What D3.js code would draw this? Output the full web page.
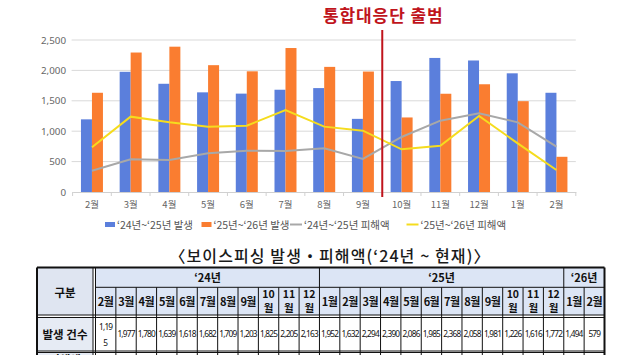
<!DOCTYPE html>
<html><head><meta charset="utf-8">
<script src="https://cdn.jsdelivr.net/npm/d3@7"></script>
<style>
html,body{margin:0;padding:0;background:#fff;}
svg{display:block;font-family:"Noto Sans CJK KR","Noto Sans",sans-serif;}
</style></head>
<body>
<svg id="c" width="627" height="355"></svg>
<script>
// ---- data ----
const months = ["2월","3월","4월","5월","6월","7월","8월","9월","10월","11월","12월","1월","2월"];
const occ2425 = [1195,1977,1780,1639,1618,1682,1709,1203,1825,2205,2163,1952,1632];
const occ2526 = [1632,2294,2390,2086,1985,2368,2058,1981,1226,1616,1772,1494,579];
const dmg2425 = [350,537,526,636,680,674,718,543,905,1173,1294,1146,745];
const dmg2526 = [735,1239,1146,1075,1090,1349,1075,1009,702,762,1250,800,362];
const yTicks = [0,500,1000,1500,2000,2500];
const seriesNames = ["‘24년~‘25년 발생","‘25년~‘26년 발생","‘24년~‘25년 피해액","‘25년~‘26년 피해액"];
const tableYears = ["‘24년","‘25년","‘26년"];
const tableMonths24 = ["2월","3월","4월","5월","6월","7월","8월","9월","10월","11월","12월"];
const tableMonths25 = ["1월","2월","3월","4월","5월","6월","7월","8월","9월","10월","11월","12월"];
const tableMonths26 = ["1월","2월"];
const tableCounts = [1195,1977,1780,1639,1618,1682,1709,1203,1825,2205,2163,1952,1632,2294,2390,2086,1985,2368,2058,1981,1226,1616,1772,1494,579];
const rowLabels = ["구분","발생 건수","피해액"];
const launchLabel = "통합대응단 출범";
const tableTitle = "〈보이스피싱 발생・피해액(‘24년 ~ 현재)〉";

const colors = {blue:"#5B7FDC", orange:"#FA7D30", gray:"#A8A8A8", yellow:"#F5DC1E"};
const svg = d3.select("#c");

// ---- chart ----
const L=72.6, R=575.8, T=40, B=192;
const x0 = d3.scaleBand().domain(d3.range(months.length)).range([L,R]).padding(0);
const x1 = d3.scaleBand().domain([0,1]).range([0,x0.bandwidth()]).paddingInner(0).paddingOuter(0.76);
const y = d3.scaleLinear().domain([0,2500]).range([B,T]);

// gridlines
svg.append("g").selectAll("line").data(yTicks.filter(d=>d>0)).join("line")
  .attr("x1",L-1).attr("x2",R).attr("y1",d=>y(d)).attr("y2",d=>y(d))
  .attr("stroke","#d9d9d9").attr("stroke-width",1);

// y labels
svg.append("g").selectAll("text").data(yTicks).join("text")
  .attr("x",66).attr("y",d=>y(d)+3.5).attr("text-anchor","end")
  .attr("font-size",9.8).attr("fill","#666").attr("font-family","Noto Sans, sans-serif")
  .text(d=>d3.format(",")(d));

// bars
const bars = svg.append("g");
months.forEach((m,i)=>{
  [[occ2425[i],colors.blue],[occ2526[i],colors.orange]].forEach(([v,c],k)=>{
    bars.append("rect").attr("x",x0(i)+x1(k)).attr("width",x1.bandwidth())
      .attr("y",y(v)).attr("height",B-y(v)).attr("fill",c);
  });
});

// x axis
const xa = svg.append("g").attr("transform",`translate(0,${B})`)
  .call(d3.axisBottom(x0).tickFormat(i=>months[i]).tickSize(0).tickPadding(9));
xa.select(".domain").attr("stroke","#d0d0d0");
xa.selectAll("text").attr("font-size",9.5).attr("fill","#666").attr("font-family","Noto Sans CJK KR");
// boundary ticks
svg.append("g").selectAll("line").data(d3.range(months.length+1)).join("line")
  .attr("x1",i=>L+i*x0.step()).attr("x2",i=>L+i*x0.step()).attr("y1",B).attr("y2",B+4)
  .attr("stroke","#d0d0d0");

// lines
const line = d3.line().x((d,i)=>x0(i)+x0.bandwidth()/2).y(d=>y(d));
svg.append("path").datum(dmg2425).attr("d",line).attr("fill","none").attr("stroke",colors.gray).attr("stroke-width",2);
svg.append("path").datum(dmg2526).attr("d",line).attr("fill","none").attr("stroke",colors.yellow).attr("stroke-width",2);

// red marker
const rx = x0(8);
svg.append("line").attr("x1",rx).attr("x2",rx).attr("y1",30).attr("y2",197)
  .attr("stroke","#C0141C").attr("stroke-width",2);
svg.append("text").attr("x",rx+1).attr("y",22).attr("text-anchor","middle")
  .attr("font-size",17).attr("font-weight","bold").attr("fill","#C0141C").attr("letter-spacing",0.9)
  .text(launchLabel);

// legend
const lg = svg.append("g").attr("font-size",10.5).attr("fill","#555");
const legendItems = [
  {x:105, type:"rect", c:colors.blue},
  {x:201.5, type:"rect", c:colors.orange},
  {x:290, type:"line", c:colors.gray},
  {x:406.5, type:"line", c:colors.yellow}];
legendItems.forEach((it,i)=>{
  if(it.type==="rect") lg.append("rect").attr("x",it.x).attr("y",222).attr("width",10).attr("height",5).attr("fill",it.c);
  else lg.append("line").attr("x1",it.x).attr("x2",it.x+12).attr("y1",224.5).attr("y2",224.5).attr("stroke",it.c).attr("stroke-width",2);
  lg.append("text").attr("x",it.x+(it.type==="rect"?12:14)).attr("y",228.5).text(seriesNames[i]);
});

// table title
svg.append("text").attr("x",330).attr("y",262).attr("text-anchor","middle")
  .attr("font-size",16).attr("font-weight",500).attr("fill","#1a1a1a").attr("letter-spacing",1.1)
  .text(tableTitle);

// ---- table ----
const TL=37, TC=93, TD=95.5, TR=604.5;
const rY = [267.5, 287.3, 315, 317.5, 351, 352.5, 380];
const allMonths = tableMonths24.concat(tableMonths25, tableMonths26);
const cx = d3.scaleBand().domain(d3.range(allMonths.length)).range([TD,TR]);
const tg = svg.append("g");
const hdr = "#DCE5F5";
// backgrounds
tg.append("rect").attr("x",TL).attr("y",rY[0]).attr("width",TC-TL).attr("height",rY[2]-rY[0]).attr("fill","#DFE5F1");
tg.append("rect").attr("x",TD).attr("y",rY[0]).attr("width",TR-TD).attr("height",rY[2]-rY[0]).attr("fill",hdr);
tg.append("rect").attr("x",TL).attr("y",rY[3]).attr("width",TC-TL).attr("height",rY[4]-rY[3]).attr("fill","#E6EBF4");
tg.append("rect").attr("x",TL).attr("y",rY[5]).attr("width",TC-TL).attr("height",rY[6]-rY[5]).attr("fill","#E6EBF4");

const bl = (x1,y1,x2,y2,w)=>tg.append("line").attr("x1",x1).attr("y1",y1).attr("x2",x2).attr("y2",y2).attr("stroke","#111").attr("stroke-width",w||1);
// year group spans
const spans = [[0,tableMonths24.length],[tableMonths24.length,tableMonths24.length+tableMonths25.length],[tableMonths24.length+tableMonths25.length,allMonths.length]];
// horizontal lines
bl(TL,rY[0],TR,rY[0],2);
bl(TD,rY[1],TR,rY[1],1);
bl(TL,rY[2],TR,rY[2],1);
bl(TL,rY[3],TR,rY[3],1);
bl(TL,rY[4],TR,rY[4],1);
bl(TL,rY[5],TR,rY[5],1);
// vertical lines
bl(TL,rY[0],TL,380,2);
bl(TR,rY[0],TR,380,2);
bl(TC,rY[0],TC,380,1);
bl(TD,rY[0],TD,380,1);
allMonths.forEach((m,i)=>{
  if(i===0) return;
  const isSpan = spans.some(s=>s[0]===i);
  bl(cx(i), isSpan?rY[0]:rY[1], cx(i), 380, 1);
});

// header texts
tg.append("text").attr("x",(TL+TC)/2).attr("y",297).attr("text-anchor","middle")
  .attr("font-size",11.5).attr("font-weight","bold").attr("fill","#111").text(rowLabels[0]);
spans.forEach((s,k)=>{
  const xa0=cx(s[0]), xa1=cx(s[1]-1)+cx.bandwidth();
  tg.append("text").attr("x",(xa0+xa1)/2).attr("y",282).attr("text-anchor","middle")
    .attr("font-size",11).attr("font-weight","bold").attr("fill","#111").text(tableYears[k]);
});
allMonths.forEach((m,i)=>{
  const c = cx(i)+cx.bandwidth()/2;
  if(m.length>2){
    tg.append("text").attr("x",c).attr("y",298).attr("text-anchor","middle").attr("font-size",10.5).attr("font-weight","bold").attr("fill","#111").text(m.slice(0,-1));
    tg.append("text").attr("x",c).attr("y",311.5).attr("text-anchor","middle").attr("font-size",10.5).attr("font-weight","bold").attr("fill","#111").text("월");
  } else {
    tg.append("text").attr("x",c).attr("y",306).attr("text-anchor","middle").attr("font-size",11).attr("font-weight","bold").attr("fill","#111").attr("letter-spacing",-0.5).text(m);
  }
});
// data row
tg.append("text").attr("x",(TL+TC)/2).attr("y",338.5).attr("text-anchor","middle")
  .attr("font-size",11.5).attr("font-weight","bold").attr("fill","#111").text(rowLabels[1]);
tg.append("text").attr("x",(TL+TC)/2).attr("y",364).attr("text-anchor","middle")
  .attr("font-size",11.5).attr("font-weight","bold").attr("fill","#111").text(rowLabels[2]);
tableCounts.forEach((v,i)=>{
  const c = cx(i)+cx.bandwidth()/2;
  const s = d3.format(",")(v);
  const t = tg.append("text").attr("text-anchor","middle").attr("font-size",8.3).attr("fill","#111")
    .attr("font-family","Noto Sans, sans-serif").attr("letter-spacing",-0.8);
  if(i===0){
    t.attr("x",c).attr("y",330).text(s.slice(0,4));
    tg.append("text").attr("x",c).attr("y",346).attr("text-anchor","middle").attr("font-size",8.3).attr("fill","#111").attr("font-family","Noto Sans, sans-serif").text(s.slice(4));
  } else {
    t.attr("x",c).attr("y",337).text(s);
  }
});
</script>
</body></html>
